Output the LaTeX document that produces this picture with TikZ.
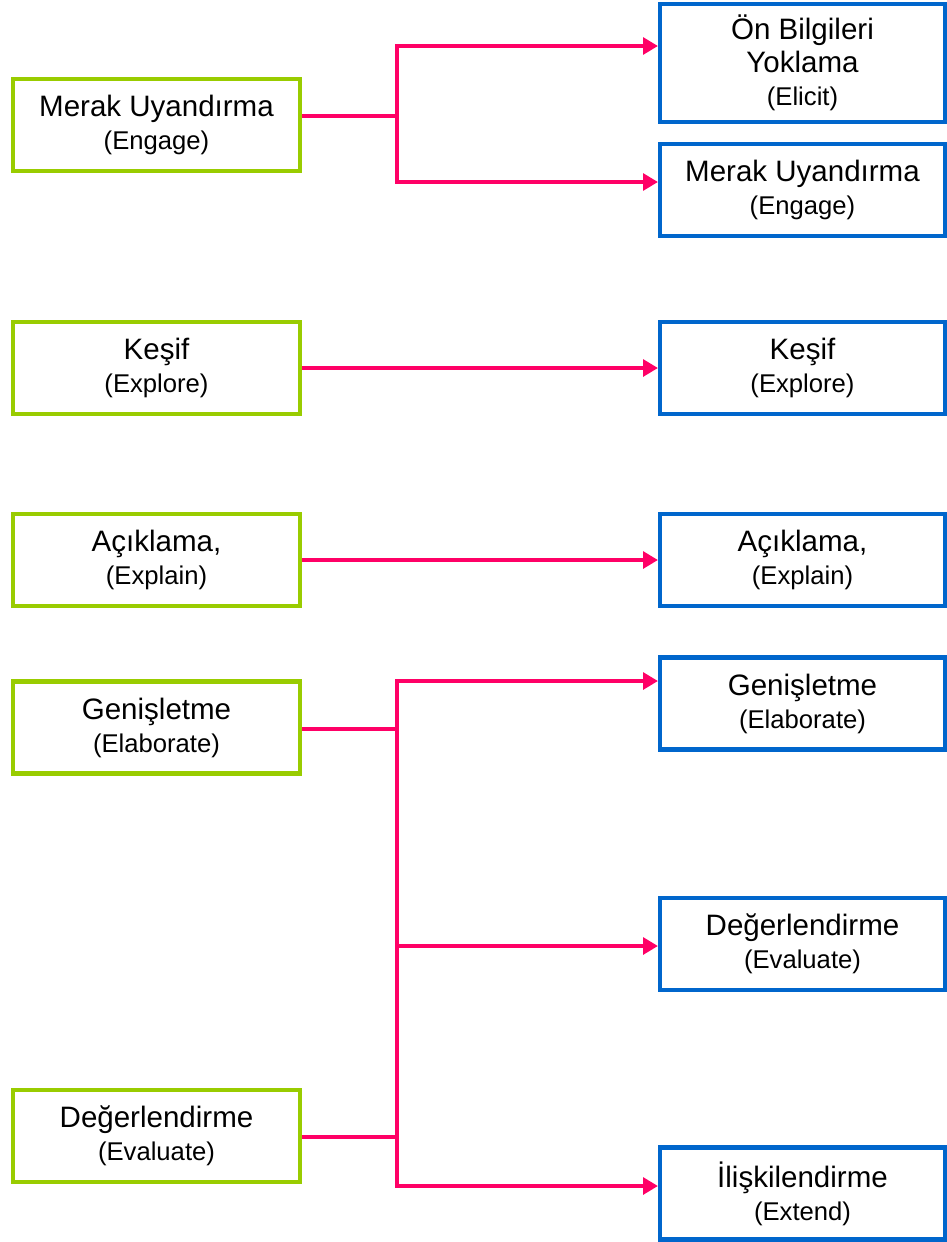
\documentclass[tikz,border=0pt]{standalone}
\usepackage{fontspec}
\setmainfont{Liberation Sans}
\usetikzlibrary{arrows.meta}

\definecolor{oldgreen}{HTML}{99CC00}
\definecolor{newblue}{HTML}{0066CC}
\definecolor{linkpink}{HTML}{FF0066}

\newcommand{\phasefont}{\fontsize{16.8}{18.8}\selectfont}
\newcommand{\engterm}[1]{{\fontsize{14.6}{18.8}\selectfont #1}}

\begin{document}
\begin{tikzpicture}[
        phase/.style={draw, line width=2.3pt, minimum height=1.84cm,
          inner sep=0pt, align=center, font=\phasefont},
        oldphase/.style={phase, draw=oldgreen, minimum width=5.74cm},
        newphase/.style={phase, draw=newblue, minimum width=5.70cm},
        link/.style={draw=linkpink, line width=2.3pt},
        linkarrow/.style={link, -{Triangle[length=8.5pt, width=9.5pt]}}
      ]

      \useasboundingbox (0,0) rectangle (18.94,-24.84);

      % 5E (left)
      \node[oldphase] (engL)   at (3.13, -2.50) {Merak Uyandırma\\ \engterm{(Engage)}};
      \node[oldphase] (exploL) at (3.13, -7.36) {Keşif\\ \engterm{(Explore)}};
      \node[oldphase] (explaL) at (3.13,-11.20) {Açıklama,\\ \engterm{(Explain)}};
      \node[oldphase] (elabL)  at (3.13,-14.55) {Genişletme\\ \engterm{(Elaborate)}};
      \node[oldphase] (evalL)  at (3.13,-22.72) {Değerlendirme\\ \engterm{(Evaluate)}};

      % 7E (right)
      \node[newphase, minimum height=2.36cm] (elicR) at (16.05,-1.26) {Ön Bilgileri\\ Yoklama\\ \engterm{(Elicit)}};
      \node[newphase] (engR)   at (16.05, -3.80) {Merak Uyandırma\\ \engterm{(Engage)}};
      \node[newphase] (exploR) at (16.05, -7.36) {Keşif\\ \engterm{(Explore)}};
      \node[newphase] (explaR) at (16.05,-11.20) {Açıklama,\\ \engterm{(Explain)}};
      \node[newphase] (elabR)  at (16.05,-14.07) {Genişletme\\ \engterm{(Elaborate)}};
      \node[newphase] (evalR)  at (16.05,-18.88) {Değerlendirme\\ \engterm{(Evaluate)}};
      \node[newphase] (extR)   at (16.05,-23.87) {İlişkilendirme\\ \engterm{(Extend)}};

      % branch points
      \coordinate (engJ)    at (7.94, -2.32);
      \coordinate (engUp)   at (7.94, -0.92);
      \coordinate (engDown) at (7.94, -3.64);
      \coordinate (elabJ)   at (7.94,-14.58);
      \coordinate (elabUp)  at (7.94,-13.62);
      \coordinate (evalMid) at (7.94,-18.92);
      \coordinate (extDown) at (7.94,-23.72);
      \coordinate (evalJ)   at (7.94,-22.74);

      \draw[link] (engL.east |- engJ) -- (engJ);
      \draw[linkarrow] (engJ) |- (elicR.west |- engUp);
      \draw[linkarrow] (engJ) |- (engR.west |- engDown);

      \draw[linkarrow] (exploL) -- (exploR);
      \draw[linkarrow] (explaL) -- (explaR);

      \draw[link] (elabL.east |- elabJ) -- (elabJ);
      \draw[link] (evalL.east |- evalJ) -- (evalJ);
      \draw[linkarrow] (elabJ) |- (elabR.west |- elabUp);
      \draw[linkarrow] (elabJ) |- (evalR.west |- evalMid);
      \draw[linkarrow] (elabJ) |- (extR.west |- extDown);

    \end{tikzpicture}
\end{document}
